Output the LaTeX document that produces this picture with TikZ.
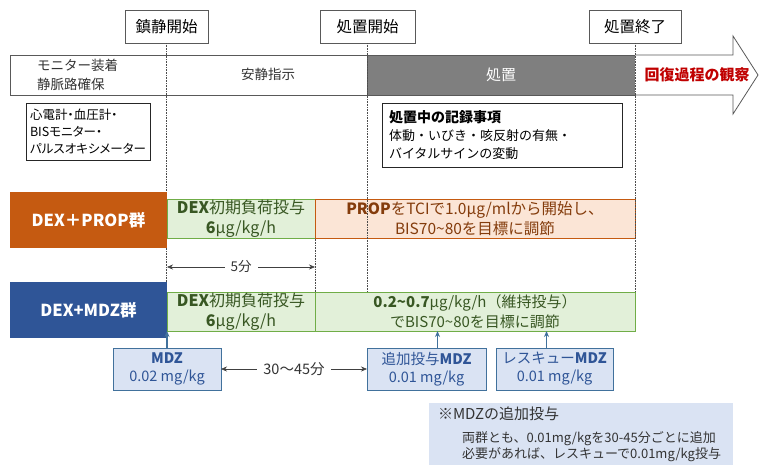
\documentclass[tikz,border=0pt]{standalone}
\usepackage{fontspec}
\setmainfont{Noto Sans CJK JP}
\usetikzlibrary{arrows.meta}
\definecolor{gfill}{HTML}{E2F0D9}
\definecolor{gline}{HTML}{70AD47}
\definecolor{gtext}{HTML}{385723}
\definecolor{pfill}{HTML}{FBE5D6}
\definecolor{pline}{HTML}{C55A11}
\definecolor{ptext}{HTML}{843C0C}
\definecolor{orng}{HTML}{C55A11}
\definecolor{dblue}{HTML}{2F5597}
\definecolor{lblue}{HTML}{DAE3F3}
\definecolor{mline}{HTML}{41719C}
\definecolor{barline}{HTML}{595959}
\definecolor{graybar}{HTML}{7F7F7F}
\definecolor{redtxt}{HTML}{C00000}
\newcommand{\fs}[2]{\fontsize{#1}{#2}\selectfont}
\begin{document}
\begin{tikzpicture}[x=1pt,y=-1pt,
  every node/.style={inner sep=2pt, outer sep=0pt},
  labbox/.style={draw=barline, fill=white, line width=0.8pt, minimum height=33pt, font=\fs{15.5}{18}},
  barbox/.style={draw=barline, line width=0.8pt, minimum height=40pt},
  infobox/.style={draw=black!85, fill=white, line width=0.9pt, align=left, inner sep=5pt},
  grpbox/.style={minimum width=157pt, minimum height=56pt, text=white, font=\fs{16.5}{19}\bfseries},
  gbox/.style={draw=gline, fill=gfill, line width=0.7pt},
  pbox/.style={draw=pline, fill=pfill, line width=0.7pt},
  mbox/.style={draw=mline, fill=lblue, line width=0.8pt, text=dblue, align=center, minimum height=42pt, font=\fs{14.5}{18}, inner sep=1pt},
  dotline/.style={densely dotted, draw=black!70, line width=0.6pt},
  dimarrow/.style={{Stealth[length=6pt,width=5pt]}-{Stealth[length=6pt,width=5pt]}, draw=black!75, line width=0.6pt},
  uparrow/.style={-{Stealth[length=6pt,width=5pt]}, draw=mline, line width=1.1pt}
]
\useasboundingbox (0,0) rectangle (759,464);
% phase bar
\node[barbox, fill=white, minimum width=357pt] (pre) at (188.5,75) {};
\node[barbox, fill=graybar, minimum width=268pt] (proc) at (501,75) {};
\coordinate (h1) at (733,55);
\coordinate (h2) at (733,36);
\coordinate (tip) at (758,75);
\coordinate (h3) at (733,114);
\coordinate (h4) at (733,95);
\draw[draw=barline, fill=white, line width=0.8pt] (proc.north east) -- (h1) -- (h2) -- (tip) -- (h3) -- (h4) -- (proc.south east);
\node[anchor=west, align=left, font=\fs{13.5}{18.5}, text=black!80] (pretxt) at (35,75) {モニター装着\\静脈路確保};
\node[font=\fs{13.5}{16}, text=black!80] (rest) at (268,74) {安静指示};
\node[font=\fs{15}{18}, text=white] (proctxt) at (501,75) {処置};
\node[font=\fs{15}{18}\bfseries, text=redtxt] (recov) at (697,75) {回復過程の観察};
% time labels
\node[labbox, minimum width=83pt] (s1) at (166.5,26.5) {鎮静開始};
\node[labbox, minimum width=95pt] (s2) at (367.5,26.5) {処置開始};
\node[labbox, minimum width=92pt] (s3) at (635,26.5) {処置終了};
% group rows
\node[gbox, minimum width=148pt, minimum height=39pt] (g1) at (241,219) {};
\node[pbox, minimum width=320pt, minimum height=39pt] (p1) at (475,219) {};
\node[gbox, minimum width=148pt, minimum height=39pt] (g2) at (241,311.5) {};
\node[gbox, minimum width=320pt, minimum height=39pt] (g3) at (475,311.5) {};
% dotted time lines
\draw[dotline] (s1.south) -- (s1.south |- g2.north);
\draw[dotline] (s2.south) -- (s2.south |- g3.north);
\draw[dotline] (s3.south) -- (s3.south |- g3.north);
\draw[dotline] (g1.south east) -- (g2.north east);
% info boxes
\node[infobox, anchor=north west, font=\fs{12.5}{17}\addfontfeatures{RawFeature=+palt}, text width=116pt, inner xsep=4pt, minimum height=57pt] (mon) at (26,103)
  {心電計・血圧計・\\BISモニター・\\パルスオキシメーター};
\node[infobox, anchor=north west, font=\fs{13}{18}, text width=226pt, inner xsep=7pt, minimum height=64pt] (rec) at (382,103)
  {{\fs{14}{18}\bfseries 処置中の記録事項}\\体動・いびき・咳反射の有無・\\バイタルサインの変動};
% group labels
\node[grpbox, fill=orng] (prop) at (88.5,220) {DEX＋PROP群};
\node[grpbox, fill=dblue] (mdz) at (88.5,310) {DEX+MDZ群};
% texts in rows
\node[text=gtext, font=\fs{16}{20}, align=center] (g1t) at (g1) {\textbf{DEX}初期負荷投与\\\textbf{6}μg/kg/h};
\node[text=ptext, font=\fs{15.5}{20}, align=center] (p1t) at (p1) {\textbf{PROP}をTCIで1.0μg/mlから開始し、\\BIS70\char"007E 80を目標に調節};
\node[text=gtext, font=\fs{16}{20}, align=center] (g2t) at (g2) {\textbf{DEX}初期負荷投与\\\textbf{6}μg/kg/h};
\node[text=gtext, font=\fs{15}{20}, align=center] (g3t) at (g3) {\textbf{0.2\char"007E 0.7}μg/kg/h（維持投与）\\でBIS70\char"007E 80を目標に調節};
% 5 min
\coordinate (f1) at (167,267);
\coordinate (f2) at (315,267);
\draw[dimarrow] (f1) -- node[fill=white, font=\fs{13.5}{16}, text=black!80, inner xsep=6pt] (five) {5分} (f2);
% MDZ boxes
\node[mbox, minimum width=108pt] (m1) at (167,369) {\textbf{MDZ}\\0.02 mg/kg};
\node[mbox, minimum width=119pt] (m2) at (426.5,369) {追加投与\textbf{MDZ}\\0.01 mg/kg};
\node[mbox, minimum width=117pt] (m3) at (554.5,369) {レスキュー\textbf{MDZ}\\0.01 mg/kg};
\draw[uparrow] (m1.north) -- (m1.north |- g2.south);
\draw[uparrow] ([xshift=11pt]m2.north) -- ([xshift=11pt]m2.north |- g3.south);
\draw[uparrow] ([xshift=-8pt]m3.north) -- ([xshift=-8pt]m3.north |- g3.south);
\draw[dimarrow] (m1.east) -- node[fill=white, font=\fs{14.5}{17}, text=black!80, inner xsep=6pt] (thirty) {30～45分} (m2.west);
% note
\node[fill=lblue, anchor=north west, minimum width=304pt, minimum height=62pt] (note) at (429,403) {};
\node[anchor=west, font=\fs{15}{18}, text=black!80] (notet) at (436,414) {※MDZの追加投与};
\node[anchor=north west, align=left, font=\fs{13}{16}, text=black!80] (noteb) at (460,430) {両群とも、0.01mg/kgを30-45分ごとに追加\\必要があれば、レスキューで0.01mg/kg投与};
\end{tikzpicture}
\end{document}
